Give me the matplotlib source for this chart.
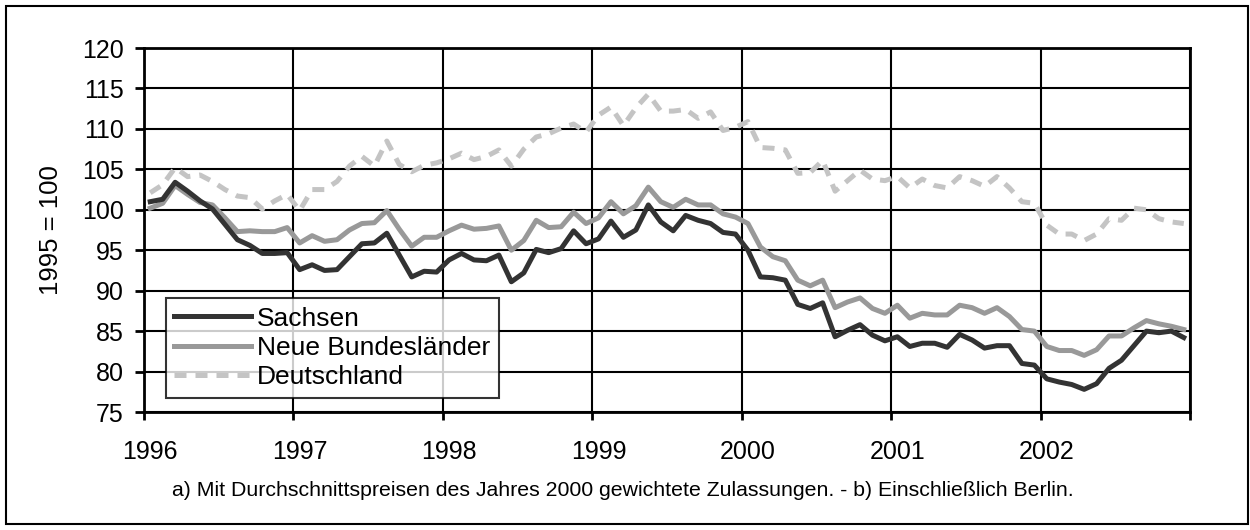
import numpy as np
import matplotlib
matplotlib.use('Agg')
import matplotlib.pyplot as plt
from matplotlib.patches import Rectangle

plt.rcParams['font.family'] = ['Liberation Sans', 'DejaVu Sans']

# monthly index values, Jan 1996 .. Dec 2002 (1995 = 100)
years = [1996, 1997, 1998, 1999, 2000, 2001, 2002]
n_months = 84

sachsen = [101.0, 101.3, 103.4, 102.3, 101.1, 100.1, 98.2, 96.3, 95.6, 94.6, 94.6, 94.7,
           92.6, 93.2, 92.5, 92.6, 94.2, 95.8, 95.9, 97.1, 94.4, 91.7, 92.4, 92.3,
           93.8, 94.6, 93.8, 93.7, 94.4, 91.1, 92.2, 95.1, 94.7, 95.2, 97.4, 95.8,
           96.4, 98.6, 96.6, 97.5, 100.6, 98.5, 97.4, 99.3, 98.7, 98.3, 97.2, 97.0,
           95.0, 91.7, 91.6, 91.3, 88.3, 87.8, 88.5, 84.3, 85.1, 85.8, 84.5, 83.8,
           84.3, 83.1, 83.5, 83.5, 83.0, 84.6, 83.9, 82.9, 83.2, 83.2, 81.0, 80.8,
           79.1, 78.7, 78.4, 77.8, 78.5, 80.4, 81.4, 83.2, 85.0, 84.8, 85.0, 84.2]

neue_laender = [100.2, 100.8, 103.0, 101.9, 100.9, 100.6, 99.0, 97.3, 97.4, 97.3, 97.3, 97.8,
                95.9, 96.8, 96.1, 96.3, 97.5, 98.3, 98.4, 99.9, 97.6, 95.5, 96.6, 96.6,
                97.4, 98.1, 97.6, 97.7, 98.0, 95.0, 96.2, 98.7, 97.8, 97.9, 99.7, 98.3,
                99.0, 101.0, 99.5, 100.5, 102.8, 101.0, 100.3, 101.3, 100.6, 100.6, 99.5, 99.1,
                98.3, 95.4, 94.2, 93.7, 91.3, 90.6, 91.3, 87.9, 88.6, 89.1, 87.8, 87.2,
                88.2, 86.6, 87.2, 87.0, 87.0, 88.2, 87.9, 87.2, 87.9, 86.8, 85.2, 85.0,
                83.1, 82.6, 82.6, 82.0, 82.7, 84.4, 84.4, 85.4, 86.3, 85.9, 85.6, 85.2]

deutschland = [102.1, 103.1, 105.2, 104.1, 104.3, 103.5, 102.5, 101.7, 101.5, 100.1, 101.1, 101.9,
               99.9, 102.5, 102.5, 103.5, 105.4, 106.6, 105.4, 108.5, 105.6, 104.7, 105.5, 105.8,
               106.3, 107.0, 106.2, 106.6, 107.4, 105.4, 107.5, 109.0, 109.4, 110.1, 110.6, 109.6,
               111.7, 112.7, 110.4, 112.6, 114.3, 112.2, 112.2, 112.4, 111.3, 112.1, 109.8, 110.2,
               110.9, 107.7, 107.6, 107.4, 104.5, 104.6, 106.1, 102.3, 103.6, 104.9, 103.8, 103.6,
               104.1, 102.7, 103.8, 103.0, 102.7, 104.1, 103.6, 102.9, 104.1, 102.7, 101.0, 100.8,
               98.1, 97.0, 97.0, 96.2, 97.0, 98.9, 98.7, 100.2, 100.0, 98.9, 98.5, 98.3]

labels = ['Sachsen', 'Neue Bundesländer', 'Deutschland']
footnote = 'a) Mit Durchschnittspreisen des Jahres 2000 gewichtete Zulassungen. - b) Einschließlich Berlin.'

# month positions in the middle of each month
x = years[0] + (np.arange(n_months) + 0.5) / 12

fig = plt.figure(figsize=(12.5, 5.3), dpi=100)
ax = fig.add_axes([144/1250, 1 - 412/530, (1190-144)/1250, (412-48)/530])

ax.plot(x, sachsen, color='#333333', lw=3.6, solid_joinstyle='round', label=labels[0], zorder=4)
ax.plot(x, neue_laender, color='#999999', lw=3.6, solid_joinstyle='round', label=labels[1], zorder=3)
line_d, = ax.plot(x, deutschland, color='#c4c4c4', lw=3.6, label=labels[2], zorder=2)
line_d.set_dashes([2.4, 1.8])

ax.set_xlim(1996, 2003)
ax.set_ylim(75, 120)
ax.set_yticks(np.arange(75, 121, 5))
ax.set_xticks(np.arange(1996, 2004))
ax.set_xticklabels([])
ax.set_xticks([yr + 1/24 for yr in years], minor=True)
ax.set_xticklabels([str(yr) for yr in years], minor=True)

ax.grid(True, which='major', color='black', lw=1.5, zorder=1)
ax.set_axisbelow(True)
for s in ax.spines.values():
    s.set_linewidth(2)
    s.set_color('black')

ax.tick_params(axis='y', which='major', direction='out', length=6.5, width=2, pad=8, labelsize=18)
ax.tick_params(axis='x', which='major', direction='out', length=6, width=2)
ax.tick_params(axis='x', which='minor', length=0, pad=20, labelsize=18)

ax.set_ylabel('1995 = 100', fontsize=18.5, labelpad=14)

leg = ax.legend(loc='upper left', bbox_to_anchor=(0.021, 0.313), borderaxespad=0,
                fontsize=19, frameon=True, fancybox=False, edgecolor='black',
                handlelength=2.9, handletextpad=0.23, labelspacing=0.2,
                borderpad=0.32)
leg.get_frame().set_linewidth(1.5)
leg.set_zorder(10)

fig.text(0.498, 1 - 490/530, footnote, ha='center', va='center', fontsize=15.3)

# outer frame
fig.patches.append(Rectangle((6/1250, 6/530), 1242/1250, 518/530, transform=fig.transFigure,
                             fill=False, edgecolor='black', lw=1.5))

fig.savefig('out.png', dpi=100)
